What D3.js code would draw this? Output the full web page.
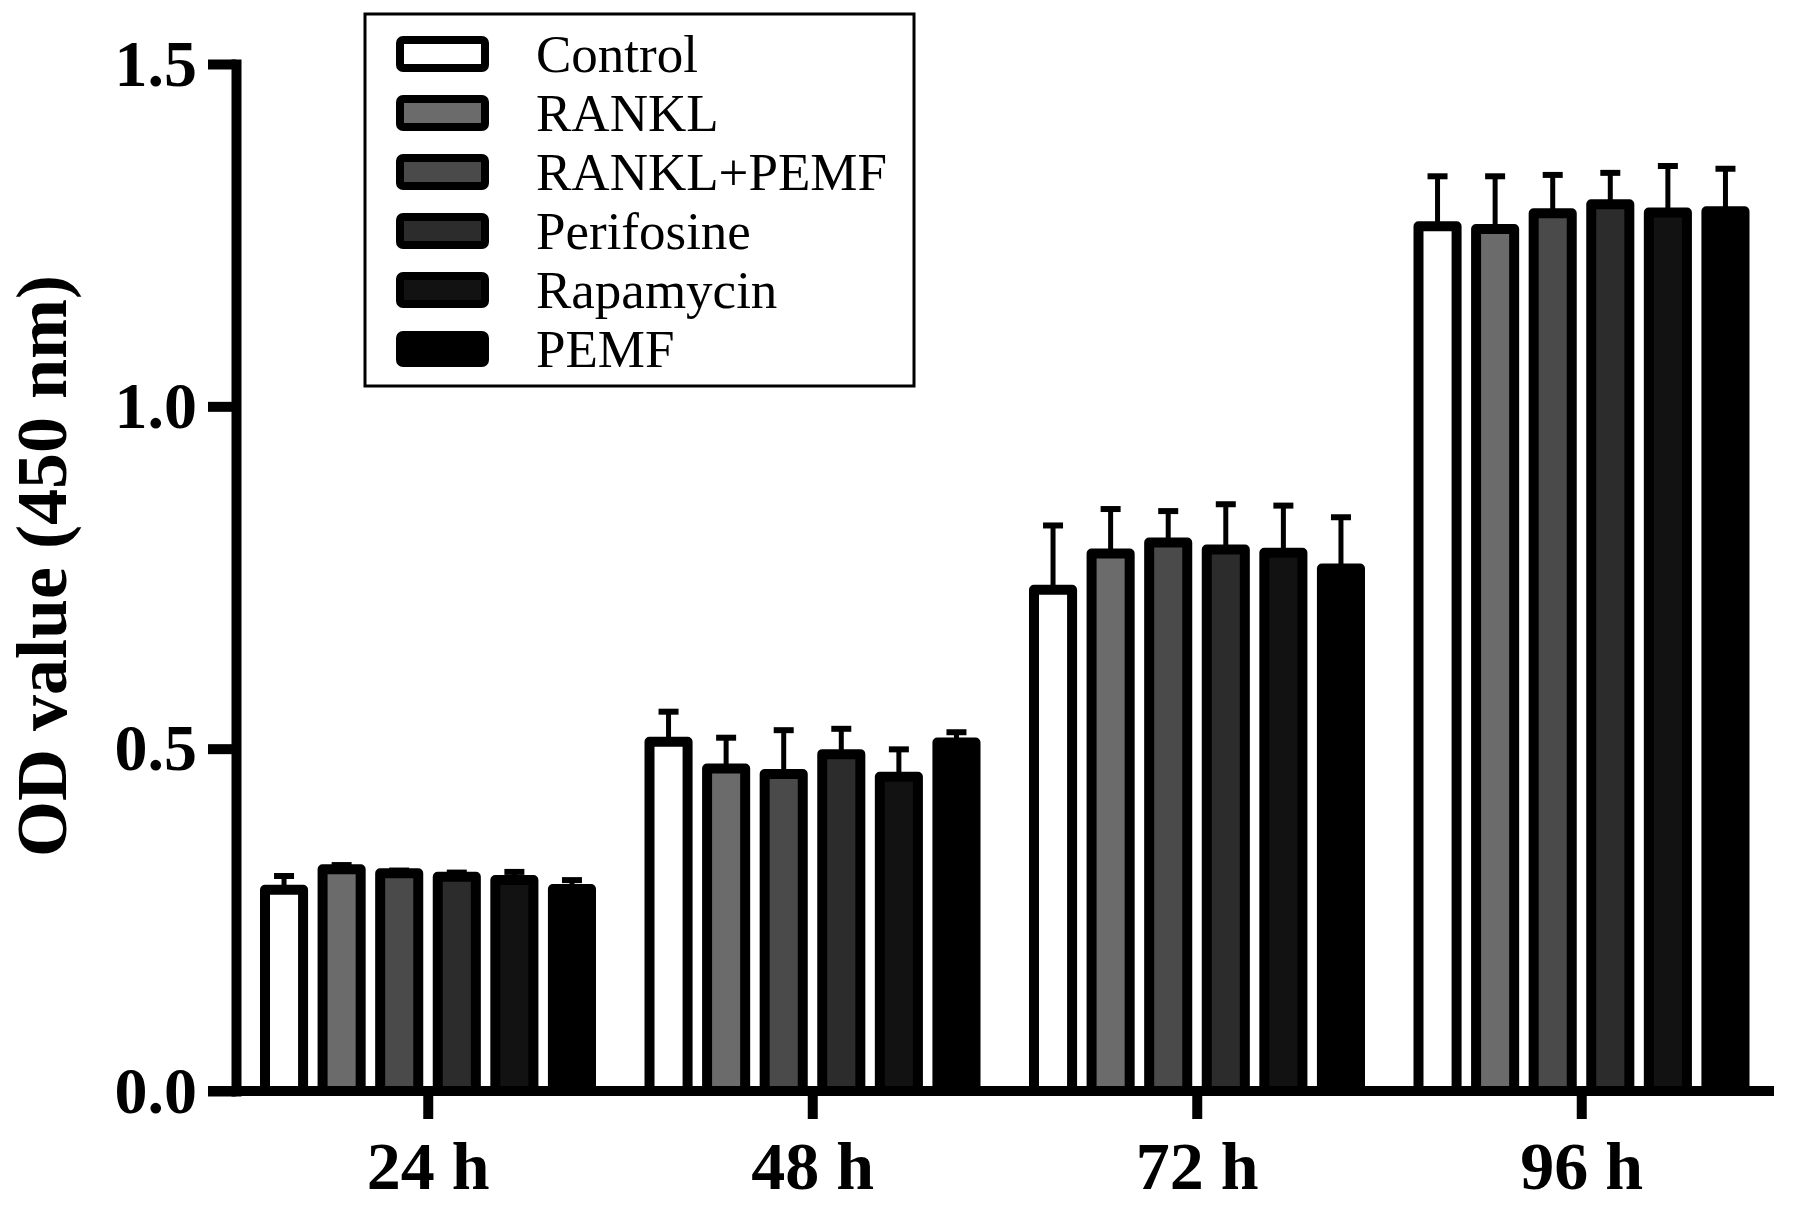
<!DOCTYPE html>
<html>
<head>
<meta charset="utf-8">
<script src="https://cdn.jsdelivr.net/npm/d3@7"></script>
<style>
  body { margin: 0; background: #fff; }
  text { font-family: "Liberation Serif", "Times New Roman", serif; }
</style>
</head>
<body>
<div id="chart"></div>
<script>
const WIDTH = 1795;
const HEIGHT = 1205;
const AXIS_X = 236;
const AXIS_RIGHT = 1774;
const Y_ZERO = 1091;
const Y_TOP = 64;
const BAR_STROKE = 10;

const groups = ['24 h', '48 h', '72 h', '96 h'];
const series = ['Control', 'RANKL', 'RANKL+PEMF', 'Perifosine', 'Rapamycin', 'PEMF'];
const fills = ['#ffffff', '#6b6b6b', '#4a4a4a', '#2c2c2c', '#121212', '#000000'];
const yTicks = [0, 0.5, 1.0, 1.5];

// mean OD per series, one value per time point
const control = [0.294, 0.510, 0.732, 1.263];
const rankl = [0.324, 0.471, 0.785, 1.259];
const ranklPemf = [0.318, 0.463, 0.801, 1.282];
const perifosine = [0.313, 0.492, 0.791, 1.295];
const rapamycin = [0.308, 0.459, 0.786, 1.283];
const pemf = [0.295, 0.509, 0.763, 1.285];

// upper error (SD)
const controlErr = [0.020, 0.044, 0.094, 0.073];
const ranklErr = [0.006, 0.045, 0.065, 0.077];
const ranklPemfErr = [0.004, 0.064, 0.046, 0.056];
const perifosineErr = [0.006, 0.037, 0.066, 0.046];
const rapamycinErr = [0.012, 0.040, 0.069, 0.068];
const pemfErr = [0.013, 0.015, 0.075, 0.062];

const means = [control, rankl, ranklPemf, perifosine, rapamycin, pemf];
const errs = [controlErr, ranklErr, ranklPemfErr, perifosineErr, rapamycinErr, pemfErr];

let svg;

function buildRows() {
  let rows = [];
  groups.forEach((g, gi) => {
    series.forEach((s, si) => {
      rows.push({ group: g, series: s, value: means[si][gi], err: errs[si][gi], fill: fills[si] });
    });
  });
  return rows;
}

function buildChart(selector) {
  svg = d3.select(selector).append('svg')
    .attr('width', WIDTH)
    .attr('height', HEIGHT)
    .style('background', '#fff');

  let x0 = d3.scaleBand().domain(groups).range([AXIS_X, AXIS_RIGHT]);
  let x1 = d3.scaleBand().domain(series).range([24, 360]).paddingInner(0.165);
  let y = d3.scaleLinear().domain([0, 1.5]).range([Y_ZERO, Y_TOP]);

  let rows = buildRows();
  let barGroup = svg.append('g').attr('class', 'barGroup');

  // error whiskers (upper only)
  let errGroup = barGroup.append('g');
  errGroup.selectAll('line.whisker')
    .data(rows)
    .enter()
    .append('line')
    .attr('class', 'whisker')
    .attr('x1', (d) => x0(d.group) + x1(d.series) + x1.bandwidth() / 2)
    .attr('x2', (d) => x0(d.group) + x1(d.series) + x1.bandwidth() / 2)
    .attr('y1', (d) => y(d.value))
    .attr('y2', (d) => y(d.value + d.err))
    .attr('stroke', '#000')
    .attr('stroke-width', 5);
  errGroup.selectAll('line.cap')
    .data(rows)
    .enter()
    .append('line')
    .attr('class', 'cap')
    .attr('x1', (d) => x0(d.group) + x1(d.series) + x1.bandwidth() / 2 - 10)
    .attr('x2', (d) => x0(d.group) + x1(d.series) + x1.bandwidth() / 2 + 10)
    .attr('y1', (d) => y(d.value + d.err))
    .attr('y2', (d) => y(d.value + d.err))
    .attr('stroke', '#000')
    .attr('stroke-width', 6);

  barGroup.selectAll('rect')
    .data(rows)
    .enter()
    .append('rect')
    .attr('x', (d) => x0(d.group) + x1(d.series) + BAR_STROKE / 2)
    .attr('width', x1.bandwidth() - BAR_STROKE)
    .attr('y', (d) => y(d.value))
    .attr('height', (d) => y(0) - y(d.value))
    .attr('fill', (d) => d.fill)
    .attr('stroke', '#000')
    .attr('stroke-width', BAR_STROKE)
    .attr('stroke-linejoin', 'round');

  // axes
  let xAxis = svg.append('g')
    .attr('transform', `translate(0,${Y_ZERO})`)
    .call(d3.axisBottom(x0).tickSize(28).tickSizeOuter(0).tickPadding(22));
  xAxis.select('.domain').attr('stroke-width', 10).attr('d', `M${AXIS_X - 28},0H${AXIS_RIGHT}`);
  xAxis.selectAll('.tick line').attr('stroke-width', 10);
  xAxis.selectAll('text')
    .attr('font-size', 68)
    .attr('font-weight', 'bold')
    .attr('fill', '#000')
    .style('font-family', '"Liberation Serif", "Times New Roman", serif');

  let yAxis = svg.append('g')
    .attr('transform', `translate(${AXIS_X},0)`)
    .call(d3.axisLeft(y).tickValues(yTicks).tickFormat(d3.format('.1f')).tickSize(28).tickSizeOuter(0).tickPadding(11));
  yAxis.select('.domain').attr('stroke-width', 10).attr('stroke-linecap', 'square');
  yAxis.selectAll('.tick line').attr('stroke-width', 10);
  yAxis.selectAll('text')
    .attr('font-size', 66)
    .attr('font-weight', 'bold')
    .attr('fill', '#000')
    .style('font-family', '"Liberation Serif", "Times New Roman", serif');

  svg.append('text')
    .attr('transform', 'translate(66,566) rotate(-90)')
    .attr('text-anchor', 'middle')
    .attr('font-size', 72)
    .attr('font-weight', 'bold')
    .text('OD value (450 nm)');

  buildLegend();
}

function buildLegend() {
  let legend = svg.append('g').attr('class', 'legend');
  let rowY = d3.scalePoint().domain(series).range([54, 349]);

  legend.append('rect')
    .attr('x', 365)
    .attr('y', 14)
    .attr('width', 549)
    .attr('height', 372)
    .attr('fill', '#fff')
    .attr('stroke', '#000')
    .attr('stroke-width', 3);

  let item = legend.selectAll('g.item')
    .data(series)
    .enter()
    .append('g')
    .attr('class', 'item')
    .attr('transform', (s) => `translate(0,${rowY(s)})`);

  item.append('rect')
    .attr('x', 400)
    .attr('y', -14)
    .attr('width', 85)
    .attr('height', 28)
    .attr('rx', 3)
    .attr('fill', (s, i) => fills[i])
    .attr('stroke', '#000')
    .attr('stroke-width', 8)
    .attr('stroke-linejoin', 'round');

  item.append('text')
    .attr('x', 536)
    .attr('y', 18)
    .attr('font-size', 53)
    .text((s) => s);
}

buildChart('#chart');
</script>
</body>
</html>
